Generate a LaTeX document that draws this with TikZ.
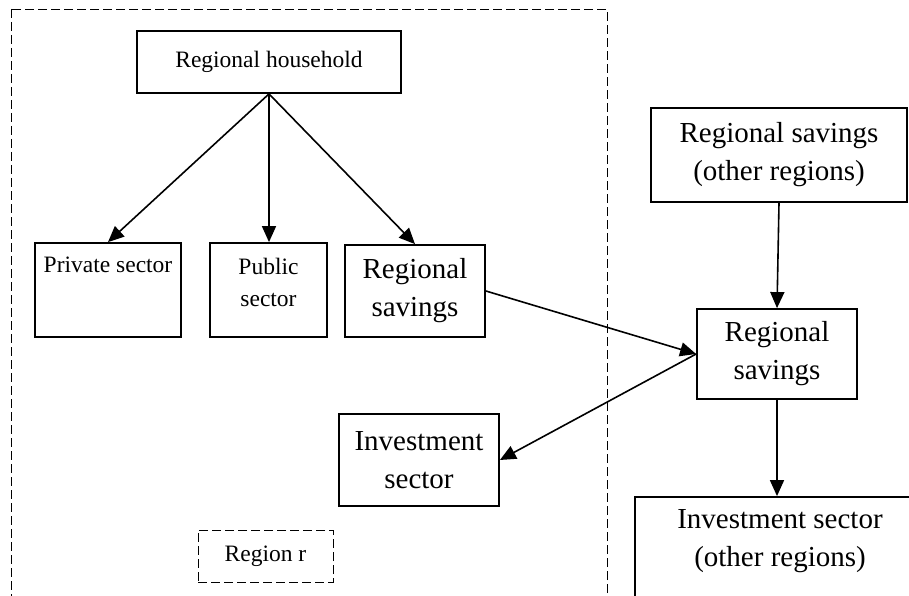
\documentclass[tikz,border=0pt]{standalone}
\usepackage{fontspec}
\setmainfont{Liberation Serif}
\usetikzlibrary{arrows.meta}
\begin{document}
\begin{tikzpicture}[x=1pt,y=-1pt,
  box/.style={draw, line width=1.8pt, inner sep=0pt, align=center},
  small/.style={font=\fontsize{23.5}{32}\selectfont},
  big/.style={font=\fontsize{29}{38}\selectfont},
  arr/.style={line width=1.6pt, -{Triangle[length=16pt,width=14pt]}},
  region/.style={draw, line width=0.9pt, dash pattern=on 9pt off 4pt}]
\useasboundingbox (0,0) rectangle (909,596);
\clip (0,0) rectangle (909,596);
\draw[region] (11,9) rectangle (607,640);
\node[box,small,minimum width=264pt,minimum height=62pt] (hh) at (269,62) {Regional household};
\node[box,small,minimum width=146pt,minimum height=94pt,
  label={[small,anchor=north,inner sep=0pt,yshift=-15pt]north:Private sector}] (priv) at (108,290) {};
\node[box,small,minimum width=117pt,minimum height=94pt,
  label={[small,anchor=north,inner sep=0pt,yshift=-16pt,align=center]north:Public\\sector}] (pub) at (268.5,290) {};
\node[box,big,minimum width=140pt,minimum height=92pt] (rsl) at (415,291) {Regional\\savings};
\node[box,big,minimum width=160pt,minimum height=92pt] (inv) at (419,460) {Investment\\sector};
\node[box,small,region,minimum width=135pt,minimum height=52pt] (regr) at (265.5,556) {Region r};
\node[box,big,minimum width=256pt,minimum height=94pt] (rso) at (779,155) {Regional savings\\(other regions)};
\node[box,big,minimum width=160pt,minimum height=90pt] (rsm) at (777,354) {Regional\\savings};
\node[box,big,minimum width=290pt,minimum height=140pt,
  label={[big,anchor=north,inner sep=0pt,yshift=-13pt,align=center]north:Investment sector\\(other regions)}] (invo) at (780,567) {};
\draw[arr] (hh.south) -- (priv.north);
\draw[arr] (hh.south) -- (pub.north -| hh.south);
\draw[arr] (hh.south) -- (rsl.north);
\draw[arr] (rsl.east) -- (rsm.west);
\draw[arr] (rsm.west) -- (inv.east);
\draw[arr] (rso.south) -- (rsm.north);
\draw[arr] (rsm.south) -- (rsm.south |- invo.north);
\end{tikzpicture}
\end{document}
